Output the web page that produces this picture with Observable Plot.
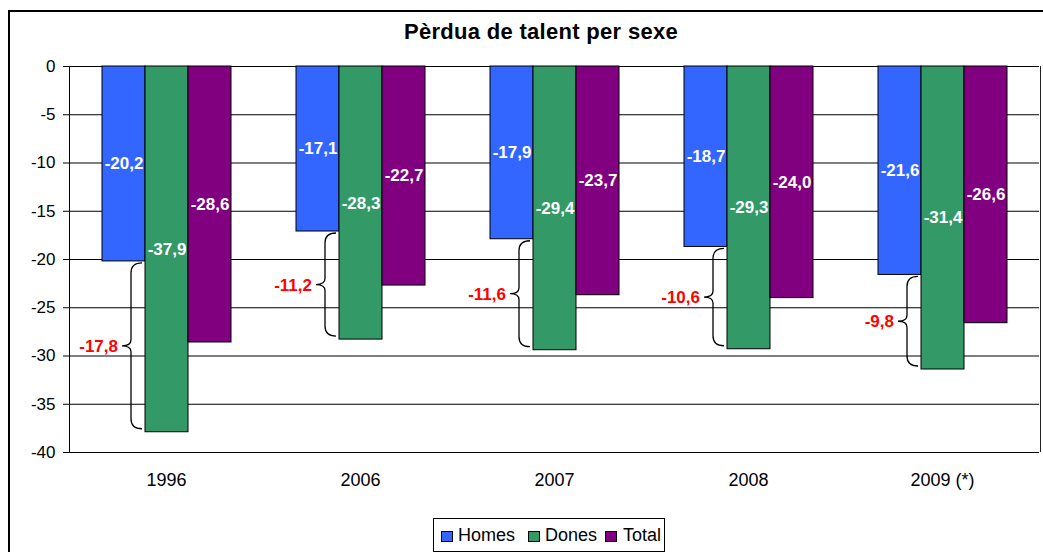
<!DOCTYPE html>
<html><head><meta charset="utf-8">
<script src="https://cdn.jsdelivr.net/npm/d3@7"></script>
<script src="https://cdn.jsdelivr.net/npm/@observablehq/plot@0.6"></script>
<style>
body{margin:0;background:#fff;font-family:"Liberation Sans",Arial,sans-serif;}
#wrap{position:relative;width:1043px;height:552px;overflow:hidden;background:#fff;}
#frame{position:absolute;left:8px;top:10px;width:1200px;height:800px;border:2px solid #000;box-sizing:border-box;}
#title{position:absolute;left:0;width:1082px;top:21px;line-height:22px;text-align:center;font-weight:bold;font-size:22px;letter-spacing:0.3px;color:#000;}
#chart{position:absolute;left:0;top:0;}
#rborder{position:absolute;left:1040px;top:66px;width:1px;height:386px;background:#222;}
#legend{position:absolute;left:433px;top:518px;width:232px;height:34px;border:1px solid #000;box-sizing:border-box;}
.sw{position:absolute;top:12px;width:10px;height:9px;border:1px solid #000;}
.lt{position:absolute;top:6px;font-size:18px;line-height:20px;color:#000;}
#chart g[aria-label^="y-axis"] text{font-size:17px;}
#chart g[aria-label^="fx-axis"] text{font-size:18px;}
</style>
</head><body>
<div id="wrap">
  <div id="frame"></div>
  <div id="title">Pèrdua de talent per sexe</div>
  <div id="chart"></div>
  <div id="rborder"></div>
  <div id="legend"></div>
</div>
<script>
const years = ["1996", "2006", "2007", "2008", "2009 (*)"];
const series = ["Homes", "Dones", "Total"];
const homes = [-20.2, -17.1, -17.9, -18.7, -21.6];
const dones = [-37.9, -28.3, -29.4, -29.3, -31.4];
const total = [-28.6, -22.7, -23.7, -24.0, -26.6];
const gapValues = [-17.8, -11.2, -11.6, -10.6, -9.8];
const yTicks = [0, -5, -10, -15, -20, -25, -30, -35, -40];
const colors = ["#3366FF", "#339966", "#800080"];

const fmt = v => v.toFixed(1).replace(".", ",");

const rows = years.flatMap((year, i) => [
  {year, series: "Homes", value: homes[i]},
  {year, series: "Dones", value: dones[i]},
  {year, series: "Total", value: total[i]}
]);
const gaps = years.map((year, i) => ({year, series: "Dones", from: homes[i], to: dones[i], gap: gapValues[i]}));

class Brace extends Plot.Mark {
  constructor(data, options = {}) {
    const {x, y1, y2, text} = options;
    super(data, {
      x: {value: x, scale: "x"},
      y1: {value: y1, scale: "y"},
      y2: {value: y2, scale: "y"},
      text: {value: text}
    }, options, {});
  }
  render(index, scales, channels, dimensions, context) {
    const {x: X, y1: Y1, y2: Y2, text: T} = channels;
    const g = d3.create("svg:g");
    for (const i of index) {
      const xr = X[i] - 3, xm = X[i] - 14, xl = X[i] - 23;
      const ya = Y1[i] + 2, yb = Y2[i] - 3, ym = (ya + yb) / 2;
      const r = 10, r2 = 6;
      const d = `M${xr},${ya} Q${xm},${ya} ${xm},${ya + r} L${xm},${ym - r2} Q${xm},${ym} ${xl},${ym} Q${xm},${ym} ${xm},${ym + r2} L${xm},${yb - r} Q${xm},${yb} ${xr},${yb}`;
      g.append("path").attr("d", d).attr("fill", "none").attr("stroke", "#000").attr("stroke-width", 1.3);
      g.append("text")
        .attr("x", xl - 4).attr("y", ym).attr("dy", "0.35em")
        .attr("text-anchor", "end")
        .attr("fill", "#FF0000")
        .attr("font-weight", "bold")
        .attr("font-size", 17)
        .text(T[i]);
    }
    return g.node();
  }
}

const chart = Plot.plot({
  width: 1043, height: 552,
  marginTop: 66, marginLeft: 68, marginRight: 3, marginBottom: 100,
  style: {fontFamily: "'Liberation Sans', Arial, sans-serif", fontSize: "17px", color: "#000", background: "transparent", overflow: "visible"},
  fx: {domain: years, padding: 0, label: null, tickSize: 0, tickPadding: 21, axis: "bottom"},
  x: {domain: series, paddingInner: 0, paddingOuter: 0.735, axis: null},
  y: {domain: [-40, 0], ticks: yTicks, tickSize: 6, tickPadding: 8, tickFormat: d => String(d), label: null, line: true},
  color: {domain: series, range: colors},
  marks: [
    Plot.ruleY(yTicks, {stroke: "#000", strokeWidth: 1}),
    Plot.barY(rows, {fx: "year", x: "series", y: "value", fill: "series", stroke: "#000", strokeWidth: 1}),
    Plot.text(rows, {fx: "year", x: "series", y: d => d.value / 2, text: d => fmt(d.value), fill: "white", fontWeight: "bold", fontSize: 17}),
    new Brace(gaps, {fx: "year", x: "series", y1: "from", y2: "to", text: d => fmt(d.gap)})
  ]
});
document.getElementById("chart").appendChild(chart);

// legend
const legend = document.getElementById("legend");
const swLeft = [7, 94, 171];
const txtLeft = [24, 111, 189];
series.forEach((s, i) => {
  const sw = document.createElement("div");
  sw.className = "sw"; sw.style.left = swLeft[i] + "px"; sw.style.background = colors[i];
  legend.appendChild(sw);
  const t = document.createElement("div");
  t.className = "lt"; t.style.left = txtLeft[i] + "px"; t.textContent = s;
  legend.appendChild(t);
});
</script>
</body></html>
